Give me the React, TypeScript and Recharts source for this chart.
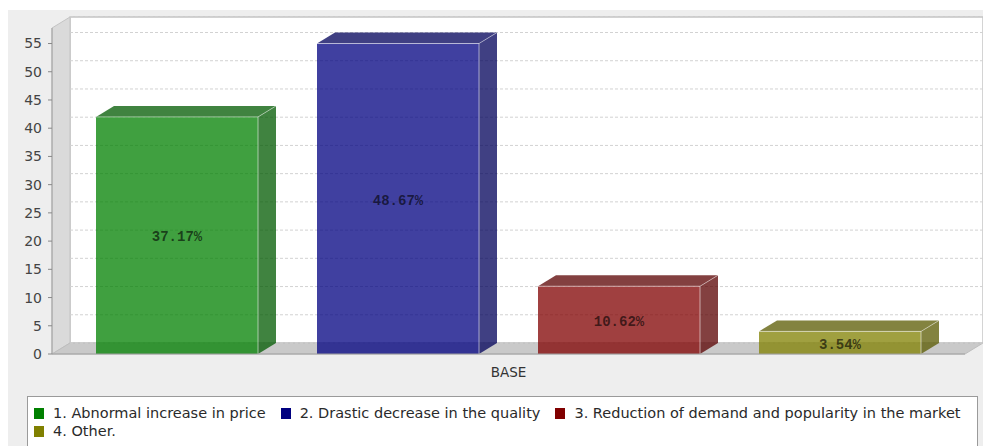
import { BarChart, Bar, XAxis, YAxis, CartesianGrid, LabelList } from "recharts";

// data (counts; labels show share of total)
const categories = ["BASE"];
const seriesKeys = ["abnormal", "drastic", "reduction", "other"];
const seriesNames = [
  "1. Abnormal increase in price",
  "2. Drastic decrease in the quality",
  "3. Reduction of demand and popularity in the market",
  "4. Other.",
];
const seriesValues = [42, 55, 12, 4];
const yTicks = [0, 5, 10, 15, 20, 25, 30, 35, 40, 45, 50, 55];

const baseColors = ["#008000", "#000080", "#800000", "#808000"];
const darkColors = ["#005900", "#000059", "#590000", "#595900"];

const total = seriesValues.reduce((a, b) => a + b, 0);
const data = categories.map((name) => {
  const row: Record<string, string | number> = { name };
  seriesKeys.forEach((k, i) => (row[k] = seriesValues[i]));
  return row;
});

// 3D depth offset
const DX = 18;
const DY = -11;
const FONT = "'DejaVu Sans', Verdana, sans-serif";

const Walls = ({ x, y, width, height }: any) => {
  const b = y + height;
  return (
    <g>
      <rect x={x + DX} y={y + DY} width={width} height={height} fill="#fff" stroke="#a8a8a8" />
      <polygon
        points={`${x},${y} ${x + DX},${y + DY} ${x + DX},${b + DY} ${x},${b}`}
        fill="#dadada"
        stroke="#c4c4c4"
      />
      <polygon
        points={`${x},${b} ${x + DX},${b + DY} ${x + width + DX},${b + DY} ${x + width},${b}`}
        fill="#c9c9c9"
        stroke="#bdbdbd"
      />
    </g>
  );
};

const gridLine = (p: any) => {
  const { x, y, width, height, y1, index } = p;
  return (
    <g key={`gl-${index}`}>
      {index === 0 && <Walls x={x} y={y} width={width} height={height} />}
      <line
        x1={x + DX}
        x2={x + width + DX}
        y1={y1 + DY}
        y2={y1 + DY}
        stroke="#d2d2d2"
        strokeDasharray="3 2"
      />
    </g>
  );
};

const Box3D = (p: any) => {
  const { x, y, width: w, height: h, fill, dark } = p;
  if (!w || h == null) return null;
  return (
    <g>
      <polygon
        points={`${x},${y} ${x + DX},${y + DY} ${x + w + DX},${y + DY} ${x + w},${y}`}
        fill={dark}
        fillOpacity={0.75}
      />
      <polygon
        points={`${x + w},${y} ${x + w + DX},${y + DY} ${x + w + DX},${y + h + DY} ${x + w},${y + h}`}
        fill={dark}
        fillOpacity={0.75}
      />
      <rect x={x} y={y} width={w} height={h} fill={fill} fillOpacity={0.75} />
      <polyline
        points={`${x},${y} ${x + w},${y} ${x + w},${y + h}`}
        fill="none"
        stroke="#fff"
        strokeOpacity={0.55}
      />
      <line x1={x + w} y1={y} x2={x + w + DX} y2={y + DY} stroke="#fff" strokeOpacity={0.45} />
    </g>
  );
};

const pctLabel = (p: any) => {
  const { x, y, width, height, value } = p;
  return (
    <text
      x={x + width / 2}
      y={y + height / 2 + 2}
      textAnchor="middle"
      dominantBaseline="central"
      fontFamily="'Liberation Mono', 'DejaVu Sans Mono', monospace"
      fontWeight="bold"
      fontSize={14}
      fill="#000"
      fillOpacity={0.62}
    >
      {((Number(value) / total) * 100).toFixed(2) + "%"}
    </text>
  );
};

export default function App() {
  return (
    <div
      style={{
        position: "absolute",
        left: 0,
        top: 0,
        width: 983,
        height: 446,
        background: "#fff",
        overflow: "hidden",
      }}
    >
      <div style={{ position: "absolute", left: 8, top: 10, right: 0, bottom: 0, background: "#eeeeee" }} />
      <div style={{ position: "absolute", left: 0, top: 0 }}>
        <BarChart
          width={983}
          height={446}
          data={data}
          margin={{ top: 28, right: 18, left: 0, bottom: 62 }}
          barCategoryGap={44}
          barGap={59}
        >
          <CartesianGrid vertical={false} horizontal={gridLine} />
          <XAxis
            dataKey="name"
            height={30}
            tickLine={false}
            tickMargin={7}
            axisLine={{ stroke: "#a0a0a0" }}
            tick={{ fontSize: 13.5, fill: "#333", fontFamily: FONT }}
          />
          <YAxis
            width={52}
            domain={[0, 57.75]}
            ticks={yTicks}
            interval={0}
            tickSize={4}
            tickMargin={6}
            axisLine={{ stroke: "#a0a0a0" }}
            tickLine={{ stroke: "#888" }}
            tick={{ fontSize: 14, fill: "#444", fontFamily: FONT }}
          />
          {seriesKeys.map((k, i) => (
            <Bar
              key={k}
              dataKey={k}
              name={seriesNames[i]}
              fill={baseColors[i]}
              isAnimationActive={false}
              shape={(p: any) => <Box3D {...p} dark={darkColors[i]} />}
            >
              <LabelList dataKey={k} content={pctLabel} />
            </Bar>
          ))}
        </BarChart>
      </div>
      <div
        style={{
          position: "absolute",
          left: 27,
          top: 396,
          width: 951,
          height: 60,
          background: "#fff",
          border: "1px solid #9a9a9a",
          boxSizing: "border-box",
          padding: "7px 0 0 6px",
          display: "flex",
          flexWrap: "wrap",
          alignContent: "flex-start",
          fontFamily: FONT,
          fontSize: 14.5,
          color: "#2a2a2a",
          lineHeight: "18px",
        }}
      >
        {seriesNames.map((n, i) => (
          <div
            key={n}
            style={{ display: "flex", alignItems: "center", marginRight: 15, whiteSpace: "nowrap" }}
          >
            <span
              style={{
                display: "inline-block",
                width: 10,
                height: 11,
                background: baseColors[i],
                marginRight: 9,
              }}
            />
            {n}
          </div>
        ))}
      </div>
    </div>
  );
}
